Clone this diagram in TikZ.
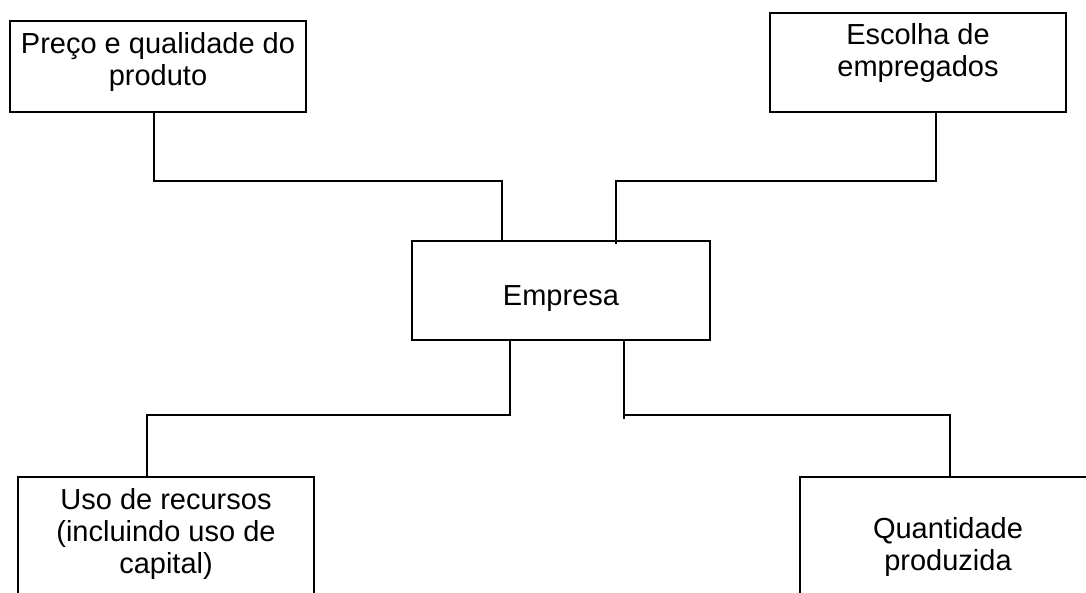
\documentclass[tikz,border=0pt]{standalone}
\usepackage{fontspec}
\setmainfont{Liberation Sans}
\usetikzlibrary{positioning}

\tikzset{
  box/.style    = {draw, rectangle, line width=2.6pt, inner sep=0pt},
  boxtxt/.style = {align=center, inner sep=0pt, font=\fontsize{29}{32}\selectfont},
  link/.style   = {line width=2.6pt}
}

\begin{document}
\begin{tikzpicture}[x=1pt, y=-1pt]
  \useasboundingbox (0,0) rectangle (1086,592);
  \clip (0,0) rectangle (1086,592);

  % frames
  \node[box, minimum width=296pt, minimum height=91pt]  (preco)      at ( 158, 66.5) {};
  \node[box, minimum width=296pt, minimum height=99pt]  (escolha)    at ( 918, 62.5) {};
  \node[box, minimum width=298pt, minimum height=99pt]  (empresa)    at ( 561,290.5) {};
  \node[box, minimum width=296pt, minimum height=140pt] (recursos)   at ( 166,547.0) {};
  \node[box, minimum width=296pt, minimum height=140pt] (quantidade) at ( 948,547.0) {};

  % texts
  \node[boxtxt, below=13pt of preco.north]      (preco-t)      {Preço e qualidade do\\produto};
  \node[boxtxt, below=12pt of escolha.north]    (escolha-t)    {Escolha de\\empregados};
  \node[boxtxt, below=46pt of empresa.north]    (empresa-t)    {Empresa};
  \node[boxtxt, below=13pt of recursos.north]   (recursos-t)   {Uso de recursos\\(incluindo uso de\\capital)};
  \node[boxtxt, below=42pt of quantidade.north] (quantidade-t) {Quantidade\\produzida};

  % junctions
  \coordinate (j1) at (502,181);
  \coordinate (j2) at (616,181);
  \coordinate (j3) at (510,415);
  \coordinate (j4) at (624,415);

  \draw[link] ([xshift=-4pt]preco.south)   |- (j1) -- (j1 |- empresa.north);
  \draw[link] ([xshift=18pt]escolha.south) |- (j2) -- ([yshift=-4pt]j2 |- empresa.north);
  \draw[link] (empresa.south -| j3) -- (j3) -| ([xshift=-19pt]recursos.north);
  \draw[link] (empresa.south -| j4) -- ([yshift=-4pt]j4) (j4) -| ([xshift=2pt]quantidade.north);
\end{tikzpicture}
\end{document}
